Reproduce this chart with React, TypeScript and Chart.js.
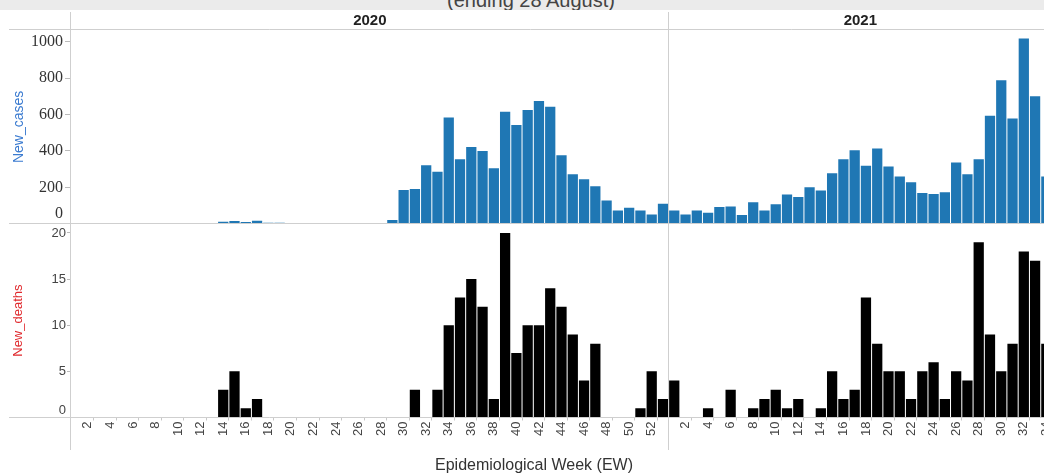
import React, { useEffect, useRef } from "react";
import { Chart, registerables } from "chart.js";

Chart.register(...registerables);

// ---------- data ----------
const weeks2020 = [
  1, 2, 3, 4, 5, 6, 7, 8, 9, 10, 11, 12, 13, 14, 15, 16, 17, 18, 19, 20, 21, 22, 23, 24, 25, 26,
  27, 28, 29, 30, 31, 32, 33, 34, 35, 36, 37, 38, 39, 40, 41, 42, 43, 44, 45, 46, 47, 48, 49, 50,
  51, 52, 53,
];
const weeks2021 = [
  1, 2, 3, 4, 5, 6, 7, 8, 9, 10, 11, 12, 13, 14, 15, 16, 17, 18, 19, 20, 21, 22, 23, 24, 25, 26,
  27, 28, 29, 30, 31, 32, 33, 34,
];
const years = ["2020", "2021"];

const cases2020 = [
  0, 0, 0, 0, 0, 0, 0, 0, 0, 0, 0, 3, 3, 11, 15, 9, 16, 5, 5, 2, 0, 2, 0, 0, 0, 0, 0, 2, 20, 185,
  191, 321, 285, 584, 354, 422, 400, 305, 615, 542, 624, 674, 643, 376, 272, 244, 206, 127, 73, 88,
  73, 51, 110,
];
const cases2021 = [
  73, 51, 73, 61, 92, 95, 48, 118, 73, 107, 160, 147, 200, 182, 277, 354, 404, 318, 413, 314, 259,
  228, 169, 163, 173, 336, 272, 354, 593, 788, 578, 1017, 700, 259,
];
const deaths2020 = [
  0, 0, 0, 0, 0, 0, 0, 0, 0, 0, 0, 0, 0, 3, 5, 1, 2, 0, 0, 0, 0, 0, 0, 0, 0, 0, 0, 0, 0, 0, 3, 0,
  3, 10, 13, 15, 12, 2, 20, 7, 10, 10, 14, 12, 9, 4, 8, 0, 0, 0, 1, 5, 2,
];
const deaths2021 = [
  4, 0, 0, 1, 0, 3, 0, 1, 2, 3, 1, 2, 0, 1, 5, 2, 3, 13, 8, 5, 5, 2, 5, 6, 2, 5, 4, 19, 9, 5, 8, 18,
  17, 8,
];

const casesTicks = [0, 200, 400, 600, 800, 1000];
const deathsTicks = [0, 5, 10, 15, 20];
const casesMax = 1064;
const deathsMax = 21;

const titleText = "(ending 28 August)";
const xTitle = "Epidemiological Week (EW)";
const casesTitle = "New_cases";
const deathsTitle = "New_deaths";

// ---------- layout / style ----------
const CANVAS_W = 1052;
const CANVAS_H = 473;
const LINE = "#cfcfcf";
const SANS = '"Liberation Sans", Arial, sans-serif';
const SERIF = '"Liberation Serif", "Times New Roman", serif';

const weekLabels = [...weeks2020, ...weeks2021].map(String);

const decorPlugin = {
  id: "decor",
  afterDraw(chart: any) {
    const ctx = chart.ctx as CanvasRenderingContext2D;
    const x = chart.scales.x;
    const yC = chart.scales.yCases;
    const yD = chart.scales.yDeaths;
    const half = (x.getPixelForValue(1) - x.getPixelForValue(0)) / 2;
    const start2020 = x.getPixelForValue(0) - half;
    const start2021 = x.getPixelForValue(weeks2020.length) - half;
    const end2021 = x.getPixelForValue(weekLabels.length - 1) + half;

    ctx.save();
    ctx.strokeStyle = LINE;
    ctx.lineWidth = 1;
    const hLine = (y: number) => {
      const yy = Math.round(y) - 0.5;
      ctx.beginPath();
      ctx.moveTo(9, yy);
      ctx.lineTo(CANVAS_W, yy);
      ctx.stroke();
    };
    hLine(30);
    hLine(yC.bottom);
    hLine(yD.bottom);
    for (const vx of [start2020, start2021]) {
      const xx = Math.round(vx) - 0.5;
      ctx.beginPath();
      ctx.moveTo(xx, 12);
      ctx.lineTo(xx, 450);
      ctx.stroke();
    }

    // year headers
    ctx.fillStyle = "#222";
    ctx.font = `bold 15px ${SANS}`;
    ctx.textAlign = "center";
    ctx.textBaseline = "middle";
    ctx.fillText(years[0], (start2020 + start2021) / 2, 21);
    ctx.fillText(years[1], (start2021 + end2021) / 2, 21);

    // y tick labels (zero label kept inside its pane)
    const drawY = (
      scale: any,
      ticks: number[],
      font: string,
      color: string,
      rightX: number,
      clampPad: number
    ) => {
      ctx.font = font;
      ctx.fillStyle = color;
      ctx.textAlign = "right";
      ctx.textBaseline = "middle";
      for (const v of ticks) {
        const py = Math.min(scale.getPixelForValue(v), scale.bottom - clampPad);
        ctx.fillText(String(v), rightX, py);
      }
    };
    drawY(yC, casesTicks, `16px ${SERIF}`, "#333", 63, 10);
    drawY(yD, deathsTicks, `13px ${SANS}`, "#444", 66, 7.5);

    // x axis title
    ctx.font = `16px ${SANS}`;
    ctx.fillStyle = "#333";
    ctx.textAlign = "center";
    ctx.textBaseline = "middle";
    ctx.fillText(xTitle, 534, 466);
    ctx.restore();
  },
};

export default function App() {
  const canvasRef = useRef<HTMLCanvasElement | null>(null);

  useEffect(() => {
    const canvas = canvasRef.current;
    if (!canvas) return;
    const chart = new Chart(canvas, {
      type: "bar",
      data: {
        labels: weekLabels,
        datasets: [
          {
            label: casesTitle,
            data: [...cases2020, ...cases2021],
            yAxisID: "yCases",
            backgroundColor: "#1f77b4",
            borderWidth: 0,
            barPercentage: 0.91,
            categoryPercentage: 1,
            grouped: false,
          } as any,
          {
            label: deathsTitle,
            data: [...deaths2020, ...deaths2021],
            yAxisID: "yDeaths",
            backgroundColor: "#000000",
            borderWidth: 0,
            barPercentage: 0.91,
            categoryPercentage: 1,
            grouped: false,
          } as any,
        ],
      },
      options: {
        animation: false,
        responsive: false,
        maintainAspectRatio: false,
        layout: { padding: { top: 30, left: 0, right: 0, bottom: 0 } },
        plugins: {
          legend: { display: false },
          tooltip: { enabled: false },
          title: { display: false },
        },
        scales: {
          x: {
            type: "category",
            offset: true,
            grid: {
              offset: true,
              drawOnChartArea: false,
              drawTicks: true,
              tickLength: 3,
              color: (c: any) => {
                const w = Number(weekLabels[c.index]);
                return w > 1 && w % 2 === 1 ? "#c8c8c8" : "rgba(0,0,0,0)";
              },
            },
            border: { display: false },
            ticks: {
              autoSkip: false,
              minRotation: 90,
              maxRotation: 90,
              padding: 1,
              color: "#444",
              font: { family: SANS, size: 13 },
              callback: (_v: any, i: number) =>
                Number(weekLabels[i]) % 2 === 0 ? weekLabels[i] : "",
            },
            afterFit: (s: any) => {
              s.height = 55.5;
              s.paddingLeft = 0;
              s.paddingRight = 0;
            },
          },
          yDeaths: {
            type: "linear",
            position: "left",
            stack: "panes",
            stackWeight: 1,
            min: 0,
            max: deathsMax,
            afterBuildTicks: (s: any) => {
              s.ticks = deathsTicks.map((v) => ({ value: v }));
            },
            afterFit: (s: any) => {
              s.width = 71;
            },
            grid: { drawOnChartArea: false, drawTicks: true, tickLength: 4, color: "#bbb" },
            border: { display: false },
            ticks: { display: false },
            title: {
              display: true,
              text: deathsTitle,
              color: "#e0282c",
              font: { family: SANS, size: 13 },
              padding: { top: 11, bottom: 0 },
            },
          },
          yCases: {
            type: "linear",
            position: "left",
            stack: "panes",
            stackWeight: 1,
            min: 0,
            max: casesMax,
            afterBuildTicks: (s: any) => {
              s.ticks = casesTicks.map((v) => ({ value: v }));
            },
            afterFit: (s: any) => {
              s.width = 71;
            },
            grid: { drawOnChartArea: false, drawTicks: true, tickLength: 6, color: "#bbb" },
            border: { display: false },
            ticks: { display: false },
            title: {
              display: true,
              text: casesTitle,
              color: "#3b7bd0",
              font: { family: SANS, size: 14 },
              padding: { top: 11, bottom: 0 },
            },
          },
        } as any,
      },
      plugins: [decorPlugin],
    });
    return () => chart.destroy();
  }, []);

  return (
    <div
      style={{
        position: "fixed",
        left: 0,
        top: 0,
        width: 1044,
        height: 473,
        overflow: "hidden",
        background: "#fff",
      }}
    >
      <canvas
        ref={canvasRef}
        width={CANVAS_W}
        height={CANVAS_H}
        style={{ display: "block", width: CANVAS_W, height: CANVAS_H }}
      />
      <div
        style={{
          position: "absolute",
          left: 0,
          top: 0,
          width: 1044,
          height: 10,
          background: "#ebebeb",
          overflow: "hidden",
        }}
      >
        <div
          style={{
            position: "absolute",
            left: 0,
            top: -10,
            width: 1062,
            textAlign: "center",
            fontFamily: SANS,
            fontSize: 20,
            lineHeight: "20px",
            color: "#444",
            whiteSpace: "nowrap",
          }}
        >
          {titleText}
        </div>
      </div>
    </div>
  );
}
